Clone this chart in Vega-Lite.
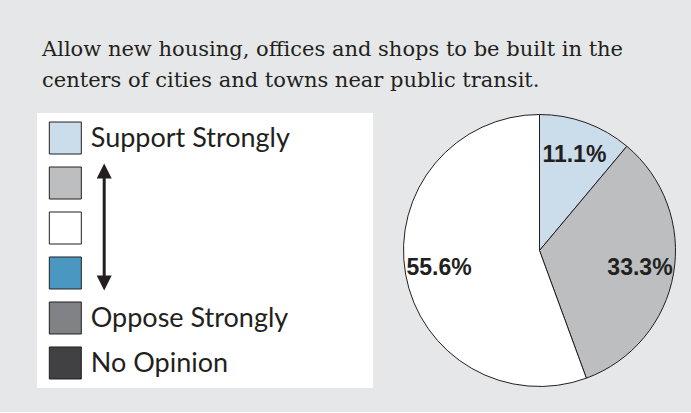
{
  "$schema": "https://vega.github.io/schema/vega-lite/v6.json",
  "background": "#e6e7e8",
  "padding": {"left": 37, "top": 38, "right": 15, "bottom": 23},
  "title": {
    "text": ["Allow new housing, offices and shops to be built in the", "centers of cities and towns near public transit."],
    "anchor": "start",
    "font": "DejaVu Serif",
    "fontSize": 21,
    "fontWeight": "normal",
    "color": "#231f20",
    "lineHeight": 31,
    "offset": 22,
    "dx": 5
  },
  "datasets": {
    "responses": [
      {"category": "Support Strongly", "share": 0.111, "rank": 1},
      {"category": "Support Somewhat", "share": 0.333, "rank": 2},
      {"category": "Neutral", "share": 0.556, "rank": 3}
    ],
    "legendItems": [
      {"category": "Support Strongly", "label": "Support Strongly"},
      {"category": "Support Somewhat", "label": ""},
      {"category": "Neutral", "label": ""},
      {"category": "Oppose Somewhat", "label": ""},
      {"category": "Oppose Strongly", "label": "Oppose Strongly"},
      {"category": "No Opinion", "label": "No Opinion"}
    ],
    "arrow": [{"from": "Support Somewhat", "to": "Oppose Somewhat"}]
  },
  "config": {"view": {"stroke": null}, "concat": {"spacing": 28}},
  "hconcat": [
    {
      "width": 336,
      "height": 275,
      "view": {"fill": "white", "stroke": null},
      "layer": [
        {
          "data": {"name": "arrow"},
          "mark": {"type": "rule", "color": "#231f20", "strokeWidth": 3, "yOffset": -12, "y2Offset": 10},
          "encoding": {
            "x": {"datum": 70, "type": "quantitative", "scale": {"domain": [0, 336]}, "axis": null},
            "y": {"field": "from", "type": "nominal", "scale": {"type": "band", "domain": ["Support Strongly", "Support Somewhat", "Neutral", "Oppose Somewhat", "Oppose Strongly", "No Opinion"], "paddingInner": 0, "paddingOuter": 0.056}, "axis": null},
            "y2": {"field": "to"}
          }
        },
        {
          "data": {"name": "arrow"},
          "mark": {"type": "point", "shape": "M0,-1L1,1L-1,1Z", "size": 225, "filled": true, "color": "#231f20", "opacity": 1, "yOffset": -12},
          "encoding": {
            "x": {"datum": 70, "type": "quantitative"},
            "y": {"field": "from", "type": "nominal"}
          }
        },
        {
          "data": {"name": "arrow"},
          "mark": {"type": "point", "shape": "M0,1L1,-1L-1,-1Z", "size": 225, "filled": true, "color": "#231f20", "opacity": 1, "yOffset": 10},
          "encoding": {
            "x": {"datum": 70, "type": "quantitative"},
            "y": {"field": "to", "type": "nominal"}
          }
        },
        {
          "data": {"name": "legendItems"},
          "mark": {"type": "point", "shape": "square", "size": 1024, "filled": true, "stroke": "#231f20", "strokeWidth": 1, "opacity": 1},
          "encoding": {
            "x": {"datum": 29.5, "type": "quantitative"},
            "y": {"field": "category", "type": "nominal"},
            "color": {"field": "category", "type": "nominal", "scale": {"domain": ["Support Strongly", "Support Somewhat", "Neutral", "Oppose Somewhat", "Oppose Strongly", "No Opinion"], "range": ["#cbdcea", "#bcbec0", "#ffffff", "#4a97c2", "#808285", "#414042"]}, "legend": null}
          }
        },
        {
          "data": {"name": "legendItems"},
          "mark": {"type": "text", "align": "left", "baseline": "middle", "font": "Lato", "fontSize": 27, "color": "#231f20", "dy": 1},
          "encoding": {
            "x": {"datum": 56, "type": "quantitative"},
            "y": {"field": "category", "type": "nominal"},
            "text": {"field": "label", "type": "nominal"}
          }
        }
      ]
    },
    {
      "width": 275,
      "height": 275,
      "data": {"name": "responses"},
      "encoding": {
        "theta": {"field": "share", "type": "quantitative", "stack": true},
        "order": {"field": "rank", "type": "ordinal"}
      },
      "layer": [
        {
          "mark": {"type": "arc", "outerRadius": 136, "stroke": "#231f20", "strokeWidth": 1},
          "encoding": {
            "color": {"field": "category", "type": "nominal", "legend": null}
          }
        },
        {
          "mark": {"type": "text", "radius": 102, "font": "Liberation Sans", "fontWeight": "bold", "fontSize": 23, "color": "#231f20"},
          "encoding": {
            "detail": {"field": "category", "type": "nominal"},
            "text": {"field": "share", "type": "quantitative", "format": ".1%"}
          }
        }
      ]
    }
  ]
}
